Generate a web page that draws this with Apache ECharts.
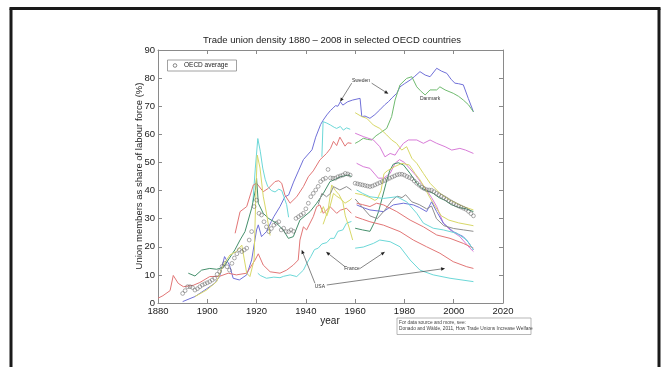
<!DOCTYPE html>
<html>
<head>
<meta charset="utf-8">
<script src="https://cdn.jsdelivr.net/npm/echarts@6/dist/echarts.min.js"></script>
<style>
  html, body { margin: 0; padding: 0; background: #fff; overflow: hidden; }
  #chart { width: 664px; height: 367px; }
</style>
</head>
<body>
<div id="chart"></div>
<script>
// Union density (% of labour force), [year, value] pairs per line
const xTicks = [1880, 1900, 1920, 1940, 1960, 1980, 2000, 2020];
const yTicks = [0, 10, 20, 30, 40, 50, 60, 70, 80, 90];

const sweden = [[1890,0.5],[1895,2.3],[1899,4.6],[1903,7],[1905,9.4],[1907,16.5],[1909,13.5],[1910.5,8.8],[1913,8.2],[1916,10],[1918,15.3],[1920,26],[1920.7,27.8],[1922,23.6],[1923,24.5],[1924,25.4],[1926,29],[1927,30.7],[1929.5,34.3],[1931.5,37.8],[1933,38.4],[1935,43],[1937,47],[1939,51],[1941,53],[1942.5,54.5],[1944,59],[1946,63.5],[1947,65],[1948.5,66.9],[1950,68.5],[1951,69.3],[1952,70.2],[1953,70],[1954,71.6],[1955,70.4],[1957,71.6],[1959,72.2],[1962,72.8],[1962.7,66.3],[1964,66.5],[1966,65.7],[1968,67],[1970,68.7],[1972,70.5],[1973.5,71.6],[1975,73],[1976.9,74.6],[1978.2,76.9],[1980,78],[1982.3,79.3],[1984,80.5],[1986.3,82.3],[1988.4,81.1],[1990.4,80.5],[1993.1,83.5],[1995,82.5],[1997.2,81.7],[1999,79.5],[2000.5,78.2],[2002,78],[2003.9,77.6],[2005.9,72.8],[2008,68]];
const denmark = [[1960,56.8],[1961.5,57.5],[1963.3,58.6],[1965,58.2],[1966.7,58],[1968.5,59.5],[1970,60.4],[1972.8,62.1],[1974.8,66.3],[1976.2,72.2],[1978.2,77.6],[1980.9,79.9],[1983,80.5],[1985,76.9],[1986.5,75.5],[1988.4,74],[1990.4,75.8],[1993.1,75.8],[1994.4,76.9],[1996.5,75.8],[1999.8,74.6],[2002,73.5],[2003.9,72.2],[2006,70.5],[2008,68]];

const cyanEarly = [[1918.5,36],[1919.5,48],[1920.5,58.5],[1921.5,54],[1922.5,48],[1923.5,44],[1924.5,41.5],[1926,40],[1927.5,39.5],[1929,40.5],[1930.2,40],[1931,38],[1932.2,35],[1933,30.5]];
const cyanPostwar = [[1946.5,52],[1947,64.5],[1948.5,64],[1950,63.3],[1951.5,62.5],[1952.5,62.1],[1954,62.8],[1955.2,61.5],[1956.5,62.3],[1958,61.8]];
const redEarly = [[1911.3,24.8],[1913.3,32.5],[1916,34.3],[1918.7,42],[1920,42.6],[1922.7,39.6],[1924.8,40.8],[1927.5,43.2],[1929,43.5],[1930.2,42.6],[1931.5,38.4],[1933.6,35.5],[1936.3,37.8],[1939,41.4],[1941,44.9],[1943,47],[1945.7,50.9],[1948.4,53.2],[1950,55],[1951.2,57.5],[1952.5,56],[1953.8,59],[1955.9,55.8],[1957,57],[1958.5,56.8]];
const usaEarly = [[1880,1.7],[1882,2.6],[1884.9,4.4],[1886.2,9.8],[1888.2,7],[1890.3,5.8],[1894.3,6.3],[1897,7.3],[1901,9.4],[1905,9.5],[1908.5,10.6],[1911.8,10],[1916,10.6],[1919.4,15.3],[1920.7,17.5],[1922.7,13.5],[1925.5,11.1],[1929.5,10.6],[1932.2,11.7],[1934.9,13.5],[1936.9,15.3],[1937.6,22.4],[1939,27.1],[1940.3,26],[1941,25.4],[1943,30.7],[1944.4,34.3],[1945.7,34.9],[1947.1,31.9],[1949.8,34.3],[1952.5,31.9],[1954,33],[1956.5,33.7],[1958.5,31.9]];
const franceEarly = [[1920.5,10.6],[1921.5,9.8],[1924,8.8],[1927,9.2],[1929.5,9],[1931,9.5],[1933.6,10],[1936.3,9.4],[1939,11.7],[1940.3,14],[1942,16.5],[1943.5,19],[1945,19.5],[1946.5,21],[1948.5,21.5],[1950,23],[1951.5,23],[1953,25.5],[1955,26],[1956.5,28.4],[1958.5,29]];
const tealEarly = [[1892.3,10.6],[1895,9.6],[1897.7,11.7],[1901,12.3],[1903.8,12],[1906.5,12.7],[1908.5,15.3],[1911.2,18.9],[1913.3,22.4],[1915.3,25.4],[1918,33.7],[1919.5,40],[1920,44.4],[1920.7,35.5],[1922.7,31.9],[1925,30],[1928.1,28.4],[1930.8,26],[1932.9,23],[1934.9,23.6],[1937.6,29.5],[1941.7,32.5],[1944.4,35.5],[1947.1,39],[1949.8,43.2],[1952,44],[1953.9,44.9],[1957.2,45.5],[1958.5,45]];
const yellowEarly = [[1895,2.3],[1899.7,4.6],[1903.8,7.6],[1906.5,13.5],[1909.2,17.1],[1911.8,18.3],[1914,20.6],[1916,10.6],[1917.3,9.4],[1919,15.3],[1919.8,42],[1920.3,52.6],[1921.4,48],[1922.7,38],[1924,32],[1925.5,24]];
const yellowPostwarA = [[1946,32],[1947.1,34.3],[1948.5,31],[1949.8,34.3],[1951.2,39],[1952.5,38],[1953.9,37.2],[1955.9,35.5],[1957.9,36.6],[1958.6,37.2]];
const yellowPostwarB = [[1947,28],[1949,33],[1950.5,42],[1952,40],[1953.5,38.5],[1955,36],[1956,31],[1957.5,27],[1959,22.4]];
const grayPostwar = [[1945,35],[1946.5,39],[1948.4,37.8],[1950,39],[1951.2,41.4],[1953.8,40.2],[1956.5,41.4],[1958.5,40.2]];

const yellowHigh = [[1960,67.7],[1962.7,66.3],[1964.7,65.7],[1967.4,63.3],[1970,62.1],[1972.8,59.8],[1974.8,58],[1976.8,56.8],[1978.9,54.4],[1980.9,55.6],[1983,51.5],[1985,49.7],[1987.7,46.1],[1990.4,42.6],[1994.4,39],[1998.5,36.6],[2001.2,35.5],[2003.9,34.3],[2008,33.1]];
const magentaHigh = [[1960,60.4],[1963.3,59.2],[1967.4,58],[1970,55.6],[1972.1,52],[1974.2,53.2],[1976.2,52.6],[1977.5,54.4],[1979.6,56.8],[1981.6,58],[1985,58],[1987.7,56.8],[1990.4,58],[1993.1,56.8],[1996.5,55.6],[1999.2,54.4],[2002.5,55],[2004.8,54.4],[2008,53.2]];
const magentaLow = [[1960.6,49.7],[1963.3,48.5],[1966,47.9],[1969.4,44.4],[1971.5,44.4],[1974.2,46.1],[1976.2,49.7],[1978,51],[1980,50],[1982,48],[1984.5,45.5],[1987,42.5],[1989,40.2],[1991,37.5],[1993.1,34.3],[1995.8,28.4],[1998.5,26],[2002.5,23.6],[2006.6,19.5],[2008,18.3]];
const greenLate = [[1960,26.6],[1963,26],[1966,25.5],[1968,29],[1969.5,32.5],[1971,37.5],[1972.5,42.5],[1974,47],[1975.5,49.4],[1977.5,49.9],[1979.6,49.1],[1982.3,46.1],[1985,42.6],[1987,40.8],[1989,40],[1991.7,39],[1994,37.5],[1996.5,36.5],[1999,35],[2002,34],[2005,33.5],[2008,32.5]];
const yellowLate = [[1960,39],[1963,38.5],[1966,37.5],[1968,36.5],[1969,37],[1970.5,40],[1971.7,46],[1973,47],[1976,48.5],[1979,49.7],[1982,49.1],[1984.3,46.1],[1986.3,43.8],[1988.4,40.8],[1990,38],[1992,35],[1995,31],[1998,29.5],[2002,28.5],[2005,28],[2008,27.5]];
const blueLate = [[1960.6,34.9],[1963,34],[1966,33.1],[1971.5,32.5],[1975.5,34.9],[1979.6,35.5],[1983.6,34.9],[1986,34],[1989,32.5],[1991,36],[1993.1,32.5],[1995.8,28.4],[1999.8,25.4],[2003.9,23.6],[2006,21.5],[2008,18.9]];
const grayLate = [[1960,37],[1963,34],[1966,31],[1969,30],[1972,33],[1975,36.5],[1977,38],[1979,37.5],[1980.5,38.5],[1983,36],[1986,35],[1989,33.5],[1991,34.5],[1993,30],[1996,27.5],[2000,26.5],[2004,26],[2008,25.5]];
const redLate = [[1960.6,35.5],[1963,35],[1966,34.3],[1968.7,35.5],[1971.5,34.9],[1976.9,32.5],[1982.3,29.5],[1987.7,27.1],[1993.1,24.2],[1998.5,23],[2003.9,21.2],[2008,19.5]];
const usaLate = [[1960,30.7],[1963,29.8],[1966,28.9],[1971.5,27.7],[1978.2,25.4],[1983.6,22.4],[1989,20],[1994.4,17.7],[1999.8,14.7],[2005.3,12.9],[2008,12.3]];
const cyanLate = [[1960.6,40.2],[1963,39],[1966,37.8],[1971.5,37.2],[1976.9,37.8],[1980.9,36],[1985,31.9],[1987.7,28.4],[1991.7,26.6],[1995.8,26],[2001.2,24.8],[2005.3,22.4],[2008,18.9]];
const franceLate = [[1960,19.5],[1963.3,19.9],[1967.4,21.2],[1970,22.4],[1974.2,21.8],[1978.2,20],[1982.3,15.3],[1986.3,11.7],[1991.7,10],[1998.5,8.8],[2008,7.6]];

// OECD average, one marker per year
const oecdYears = [1890,1891,1892,1893,1894,1895,1896,1897,1898,1899,1900,1901,1902,1903,1904,1905,1906,1907,1908,1909,1910,1911,1912,1913,1914,1915,1916,1917,1918,1919,1920,1921,1922,1923,1924,1925,1926,1927,1928,1929,1930,1931,1932,1933,1934,1935,1936,1937,1938,1939,1940,1941,1942,1943,1944,1945,1946,1947,1948,1949,1950,1951,1952,1953,1954,1955,1956,1957,1958,
  1960,1961,1962,1963,1964,1965,1966,1967,1968,1969,1970,1971,1972,1973,1974,1975,1976,1977,1978,1979,1980,1981,1982,1983,1984,1985,1986,1987,1988,1989,1990,1991,1992,1993,1994,1995,1996,1997,1998,1999,2000,2001,2002,2003,2004,2005,2006,2007,2008];
const oecdValues = [3.4,4.4,5.8,5.8,5.5,4.6,5.1,5.8,6.4,6.8,7.2,7.6,8.2,8.8,10.2,11.2,13,14.1,12.9,11.7,14.1,16,17.5,18.9,18.3,18.9,19.5,22.4,25.4,34.3,36.6,31.9,31.3,28.9,27.1,25.4,26.5,27.7,28.4,28.9,26,26.6,25.4,25.4,26,25.5,30.1,30.7,31.3,31.9,33.5,35.5,37.8,39,40.2,41.5,43.2,44,44.4,47.5,44.5,44.4,44.4,44.9,45.2,45.5,46.1,45.9,45.5,
  42.6,42.4,42.2,42,41.8,41.6,41.4,41.6,42,42.4,42.8,43.2,43.6,44,44.4,44.8,45.2,45.6,45.8,45.8,45.5,45,44.6,44.2,43.4,42.6,41.9,41.2,40.7,40.3,40.2,40.1,39.6,39,38.5,38,37.5,37,36.4,35.9,35.4,34.9,34.5,34.1,33.7,33.3,32.6,31.8,31];

const C = {
  blue: '#7070d8', green: '#70bb70', teal: '#45906c', red: '#e27676',
  cyan: '#6cd8d8', magenta: '#d87cd8', yellow: '#d8d868', gray: '#8e8e8e'
};
const FONT = '"Liberation Sans", Arial, Helvetica, sans-serif';

const lines = [
  [sweden, C.blue], [denmark, C.green],
  [cyanEarly, C.cyan], [cyanPostwar, C.cyan], [redEarly, C.red], [usaEarly, C.red],
  [franceEarly, C.cyan], [tealEarly, C.teal], [yellowEarly, C.yellow],
  [yellowPostwarA, C.yellow], [yellowPostwarB, C.yellow], [grayPostwar, C.gray],
  [yellowHigh, C.yellow], [magentaHigh, C.magenta], [magentaLow, C.magenta],
  [greenLate, C.teal], [yellowLate, C.yellow], [blueLate, C.blue], [grayLate, C.gray],
  [redLate, C.red], [usaLate, C.red], [cyanLate, C.cyan], [franceLate, C.cyan]
];

const series = lines.map(([data, color]) => ({
  type: 'line', data, xAxisIndex: 0, yAxisIndex: 0,
  symbol: 'none', silent: true, z: 2,
  lineStyle: { color, width: 1 }
}));
series.push({
  type: 'scatter', xAxisIndex: 0, yAxisIndex: 0, z: 5,
  data: oecdYears.map((y, i) => [y, oecdValues[i]]),
  symbol: 'circle', symbolSize: 3.8,
  itemStyle: { color: 'rgba(255,255,255,0)', borderColor: '#6a6a6a', borderWidth: 0.7 }
});

const axisCommon = {
  axisLine: { show: true, onZero: false, lineStyle: { color: '#8a8a8a', width: 1 } },
  axisTick: { show: true, inside: true, length: 4, lineStyle: { color: '#8a8a8a' } },
  splitLine: { show: false }
};
const plain = (v) => String(v);

const chart = echarts.init(document.getElementById('chart'), null, { renderer: 'canvas' });
chart.setOption({
  animation: false,
  backgroundColor: '#fff',
  title: {
    text: 'Trade union density 1880 \u2013 2008 in selected OECD countries',
    left: 'center', top: 30,
    textStyle: { fontFamily: FONT, fontSize: 9.5, fontWeight: 'normal', color: '#222' }
  },
  grid: { left: 158, right: 161, top: 50, bottom: 64 },
  xAxis: [
    Object.assign({ type: 'value', min: xTicks[0], max: xTicks[xTicks.length - 1], interval: 20, position: 'bottom',
      axisLabel: { fontFamily: FONT, fontSize: 9.5, color: '#222', margin: 3, formatter: plain } }, axisCommon),
    Object.assign({ type: 'value', min: xTicks[0], max: xTicks[xTicks.length - 1], interval: 20, position: 'top',
      axisLabel: { show: false } }, axisCommon)
  ],
  yAxis: [
    Object.assign({ type: 'value', min: yTicks[0], max: yTicks[yTicks.length - 1], interval: 10, position: 'left',
      axisLabel: { fontFamily: FONT, fontSize: 9.5, color: '#222', margin: 3, formatter: plain } }, axisCommon),
    Object.assign({ type: 'value', min: yTicks[0], max: yTicks[yTicks.length - 1], interval: 10, position: 'right',
      axisLabel: { show: false } }, axisCommon)
  ],
  series
});

// Annotations placed in data space, converted to pixels
const px = (p) => chart.convertToPixel({ xAxisIndex: 0, yAxisIndex: 0 }, p);
const labels = [
  { text: 'Sweden', at: [1962.4, 79.2] },
  { text: 'Danmark', at: [1990.4, 72.6] },
  { text: 'France', at: [1958.7, 12.1] },
  { text: 'USA', at: [1945.7, 5.7] }
];
const arrows = [
  [[1958.6, 78.2], [1953.9, 71.6]],
  [[1966.7, 78.2], [1973.5, 74.4]],
  [[1955.9, 12.9], [1948.2, 18.2]],
  [[1962.0, 12.3], [1972.1, 18.2]],
  [[1943.7, 7.0], [1938.3, 18.9]],
  [[1948.5, 6.4], [1996.5, 12.3]]
];

const g = [];
// outer frame: three separate edges, open at the bottom
[[11, 8.5, 11, 367], [9.5, 8.5, 660.5, 8.5], [659, 8.5, 659, 367]].forEach(([x1, y1, x2, y2]) => {
  g.push({ type: 'line', shape: { x1, y1, x2, y2 }, style: { stroke: '#1a1a1a', lineWidth: 3 }, z: 100 });
});
// axis names
g.push({ type: 'text', x: 139, y: 176, rotation: Math.PI / 2,
  style: { text: 'Union members as share of labour force (%)', fontFamily: FONT, fontSize: 9.5,
    fill: '#222', textAlign: 'center', textVerticalAlign: 'middle' } });
g.push({ type: 'text', x: 330, y: 321,
  style: { text: 'year', fontFamily: FONT, fontSize: 10, fill: '#222', textAlign: 'center', textVerticalAlign: 'middle' } });
// legend box
g.push({ type: 'rect', shape: { x: 167.5, y: 60, width: 69, height: 11 },
  style: { fill: '#fff', stroke: '#8a8a8a', lineWidth: 0.8 }, z: 50 });
g.push({ type: 'circle', shape: { cx: 175, cy: 65.5, r: 1.8 },
  style: { fill: null, stroke: '#555', lineWidth: 0.7 }, z: 51 });
g.push({ type: 'text', x: 184, y: 65.5, z: 51,
  style: { text: 'OECD average', fontFamily: FONT, fontSize: 6.5, fill: '#222', textVerticalAlign: 'middle' } });
// country labels
labels.forEach(l => {
  const p = px(l.at);
  g.push({ type: 'text', x: p[0], y: p[1], z: 60,
    style: { text: l.text, fontFamily: FONT, fontSize: 5, fill: '#333', textAlign: 'center', textVerticalAlign: 'middle' } });
});
// arrows with filled heads
arrows.forEach(([a, b]) => {
  const p0 = px(a), p1 = px(b);
  const dx = p1[0] - p0[0], dy = p1[1] - p0[1];
  const len = Math.hypot(dx, dy), ux = dx / len, uy = dy / len;
  const L = 4, W = 1.7;
  const bx = p1[0] - ux * L, by = p1[1] - uy * L;
  g.push({ type: 'line', z: 60, shape: { x1: p0[0], y1: p0[1], x2: bx, y2: by },
    style: { stroke: '#333', lineWidth: 0.6 } });
  g.push({ type: 'polygon', z: 60,
    shape: { points: [[p1[0], p1[1]], [bx - uy * W, by + ux * W], [bx + uy * W, by - ux * W]] },
    style: { fill: '#222' } });
});
// source note
g.push({ type: 'rect', shape: { x: 397, y: 318, width: 134, height: 16.5 },
  style: { fill: '#fff', stroke: '#9a9a9a', lineWidth: 0.7 } });
g.push({ type: 'text', x: 399, y: 322.5,
  style: { text: 'For data source and more, see:', fontFamily: FONT, fontSize: 4.8, fill: '#444', textVerticalAlign: 'middle' } });
g.push({ type: 'text', x: 399, y: 328.5,
  style: { text: 'Donado and W\u00e4lde, 2011, How Trade Unions Increase Welfare', fontFamily: FONT, fontSize: 4.8, fill: '#444', textVerticalAlign: 'middle' } });

chart.setOption({ graphic: g });
</script>
</body>
</html>
